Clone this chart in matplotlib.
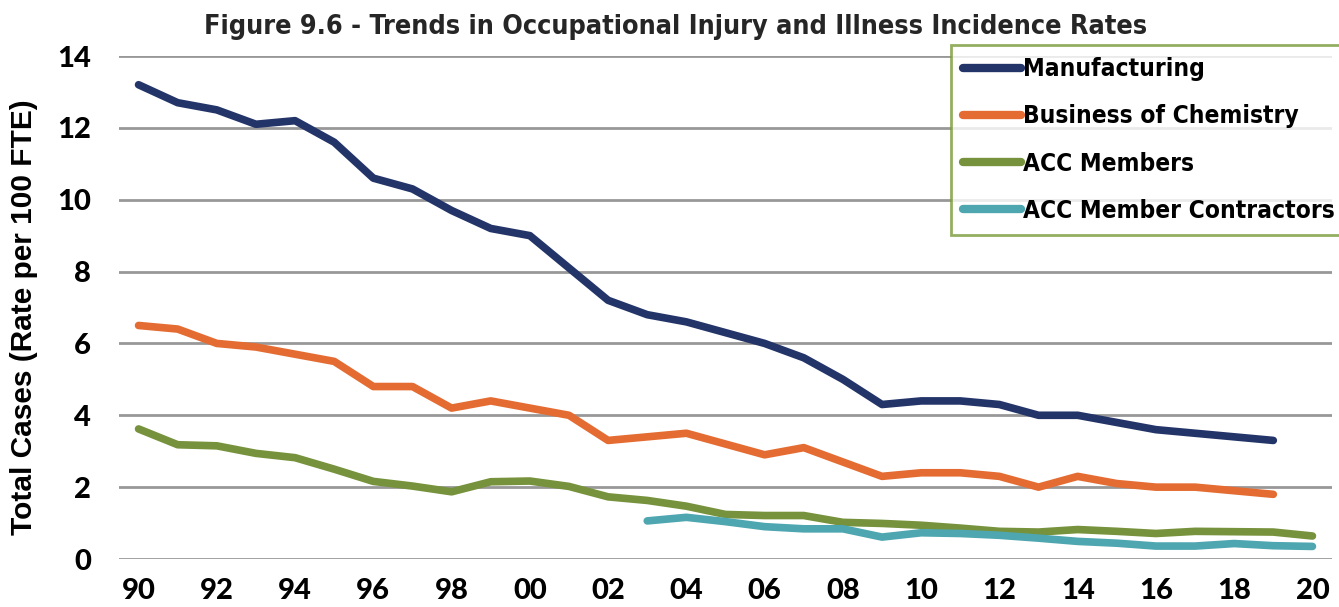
import matplotlib
matplotlib.use("Agg")
import matplotlib.pyplot as plt

years = list(range(1990, 2021))
manufacturing = [13.2, 12.7, 12.5, 12.1, 12.2, 11.6, 10.6, 10.3, 9.7, 9.2, 9.0, 8.1, 7.2, 6.8, 6.6,
                 6.3, 6.0, 5.6, 5.0, 4.3, 4.4, 4.4, 4.3, 4.0, 4.0, 3.8, 3.6, 3.5, 3.4, 3.3]
business_chem = [6.5, 6.4, 6.0, 5.9, 5.7, 5.5, 4.8, 4.8, 4.2, 4.4, 4.2, 4.0, 3.3, 3.4, 3.5,
                 3.2, 2.9, 3.1, 2.7, 2.3, 2.4, 2.4, 2.3, 2.0, 2.3, 2.1, 2.0, 2.0, 1.9, 1.8]
acc_members = [3.62, 3.18, 3.15, 2.94, 2.82, 2.50, 2.16, 2.03, 1.87, 2.15, 2.17, 2.02, 1.73, 1.63, 1.47,
               1.24, 1.21, 1.21, 1.02, 0.99, 0.94, 0.86, 0.77, 0.75, 0.82, 0.77, 0.71, 0.77, 0.76, 0.75, 0.64]
contractor_years = list(range(2003, 2021))
acc_contractors = [1.06, 1.16, 1.04, 0.90, 0.84, 0.84, 0.61, 0.73, 0.71, 0.66, 0.58, 0.49, 0.44,
                   0.36, 0.36, 0.43, 0.37, 0.35]
xtick_years = list(range(1990, 2021, 2))
xtick_labels = [f"{y % 100:02d}" for y in xtick_years]
yticks = [0, 2, 4, 6, 8, 10, 12, 14]

W, H = 1339, 607
fig = plt.figure(figsize=(W / 100, H / 100), dpi=100)
ax = fig.add_axes([119 / W, 1 - 559 / H, (1332 - 119) / W, (559 - 56) / H])

lw = 5.5
ax.plot(years[:len(manufacturing)], manufacturing, color="#233468", lw=lw, label="Manufacturing",
        solid_capstyle="round", zorder=3)
ax.plot(years[:len(business_chem)], business_chem, color="#E46C32", lw=lw, label="Business of Chemistry",
        solid_capstyle="round", zorder=3)
ax.plot(years, acc_members, color="#77923C", lw=lw, label="ACC Members", solid_capstyle="round", zorder=3)
ax.plot(contractor_years, acc_contractors, color="#4EA6B0", lw=lw, label="ACC Member Contractors",
        solid_capstyle="round", zorder=3)

ax.set_ylim(0, 14)
ax.set_xlim(1989.5, 2020.5)
ax.set_yticks(yticks)
ax.set_xticks(xtick_years)
ax.set_xticklabels(xtick_labels)
ax.grid(axis="y", color="#989898", lw=2, zorder=0)
ax.grid(axis="x", visible=False)
for s in ax.spines.values():
    s.set_visible(False)
ax.tick_params(length=0, labelsize=21)
ax.tick_params(axis="y", pad=20)
ax.tick_params(axis="x", pad=14)
for lab in ax.get_xticklabels() + ax.get_yticklabels():
    lab.set_family(["Lato", "DejaVu Sans"])
    lab.set_fontweight("black")

fig.text(24 / W, 1 - 317 / H, "Total Cases (Rate per 100 FTE)", rotation=90, ha="center", va="center",
         fontsize=21.5, fontweight="bold", family=["Liberation Sans", "DejaVu Sans"])

fig.text(676 / W, 1 - 27 / H, "Figure 9.6 - Trends in Occupational Injury and Illness Incidence Rates",
         ha="center", va="center", fontsize=19.4, fontweight="bold", color="#262626",
         family=["DejaVu Sans"], fontstretch="condensed")

leg = fig.legend(loc="upper left", bbox_to_anchor=(951 / W, 1 - 45 / H), handlelength=2.35,
                 handletextpad=0.1, labelspacing=0.95, borderpad=0.5, borderaxespad=0,
                 fancybox=False,
                 prop={"family": "DejaVu Sans", "weight": "bold", "size": 17.6, "stretch": "condensed"})
leg.get_frame().set_edgecolor("#7a9a3a")
leg.get_frame().set_linewidth(2)
for h in leg.get_lines():
    h.set_linewidth(6)
    h.set_solid_capstyle("round")

fig.savefig("out.png", dpi=100)
